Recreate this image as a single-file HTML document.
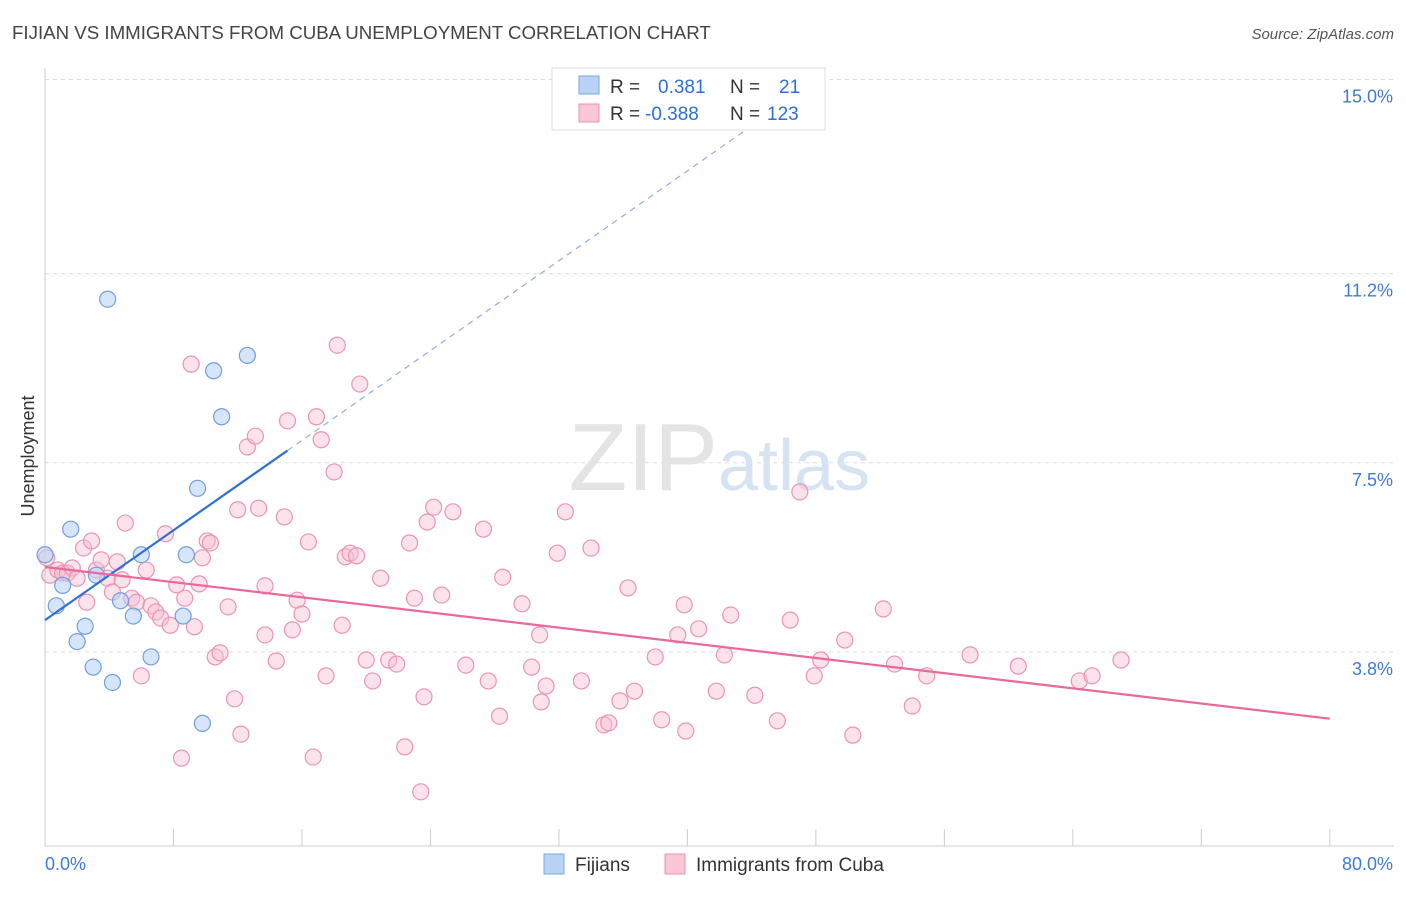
<!DOCTYPE html>
<html><head><meta charset="utf-8"><style>
body{margin:0;background:#fff;font-family:"Liberation Sans",sans-serif}
svg text{font-family:"Liberation Sans",sans-serif}
</style></head><body>
<svg id="chart" width="1406" height="892" viewBox="0 0 1406 892">
<text x="12" y="39" font-size="18.7" fill="#444">FIJIAN VS IMMIGRANTS FROM CUBA UNEMPLOYMENT CORRELATION CHART</text>
<text x="1394" y="39" font-size="15" fill="#555" text-anchor="end" font-style="italic">Source: ZipAtlas.com</text>
<g id="grid"></g>
<g id="axes"></g>
<text x="718" y="490" font-size="96" fill="#e4e4e4" text-anchor="end" font-family="Liberation Serif">ZIP</text>
<text x="718" y="490" font-size="72" fill="#d6e3f3">atlas</text>
<g id="pinkpts"></g>
<g id="bluepts"></g>
<g id="lines"></g>
<text x="34" y="456" font-size="18" fill="#333" text-anchor="middle" transform="rotate(-90 34 456)">Unemployment</text>
<g>
<rect x="552" y="68" width="273" height="62" fill="#fff" stroke="#ddd"/>
<rect x="579" y="76" width="20" height="18" fill="#b9d3f5" stroke="#7aa7e0"/>
<rect x="579" y="104" width="20" height="18" fill="#f9c6d6" stroke="#e993b0"/>
<text x="610" y="93" font-size="19" fill="#333">R = </text><text x="658" y="93" font-size="19" fill="#2f6fd6">0.381</text>
<text x="730" y="93" font-size="19" fill="#333">N = </text><text x="779" y="93" font-size="19" fill="#2f6fd6">21</text>
<text x="610" y="120" font-size="19" fill="#333">R = </text><text x="645" y="120" font-size="19" fill="#2f6fd6">-0.388</text>
<text x="730" y="120" font-size="19" fill="#333">N = </text><text x="767" y="120" font-size="19" fill="#2f6fd6">123</text>
</g>
<g>
<rect x="544" y="854" width="20" height="20" fill="#b9d3f5" stroke="#7aa7e0"/>
<text x="575" y="871" font-size="19" fill="#333">Fijians</text>
<rect x="665" y="854" width="20" height="20" fill="#f9c6d6" stroke="#e993b0"/>
<text x="696" y="871" font-size="19" fill="#333">Immigrants from Cuba</text>
</g>
</svg>
<script>
const xTicks=[0,10,20,30,40,50,60,70,80];
const yTicks=[3.8,7.5,11.2,15.0];
const yTickLabels=["3.8%","7.5%","11.2%","15.0%"];
const fijX=[0,0.7,1.1,1.6,2.0,2.5,3.0,3.2,3.9,4.2,4.7,5.5,6.0,6.6,8.6,8.8,9.5,9.8,10.5,11.0,12.6];
const fijY=[5.7,4.7,5.1,6.2,4.0,4.3,3.5,5.3,10.7,3.2,4.8,4.5,5.7,3.7,4.5,5.7,7.0,2.4,9.3,8.4,9.6];
const cubX=[0.1,0.3,0.8,1.1,1.4,1.7,2.0,2.4,2.6,2.9,3.2,3.5,3.9,4.2,4.5,4.8,5.0,5.4,5.7,6.0,6.3,6.6,6.9,7.2,7.5,7.8,8.2,8.5,8.7,9.1,9.3,9.6,9.8,10.1,10.3,10.6,10.9,11.4,11.8,12.0,12.2,12.6,13.1,13.3,13.7,13.7,14.4,14.9,15.1,15.4,15.7,16.0,16.4,16.7,16.9,17.2,17.5,18.0,18.2,18.5,18.7,19.0,19.4,19.6,20.0,20.4,20.9,21.4,21.9,22.4,22.7,23.0,23.4,23.6,23.8,24.2,24.7,25.4,26.2,27.3,27.6,28.3,28.5,29.7,30.3,30.8,30.9,31.2,31.9,32.4,33.4,34.0,34.8,35.1,35.8,36.3,36.7,38.0,38.4,39.4,39.8,39.9,40.7,41.8,42.3,42.7,44.2,45.6,46.4,47.0,47.9,48.3,49.8,50.3,52.2,52.9,54.0,54.9,57.6,60.6,64.4,65.2,67.0];
const cubY=[5.64,5.30,5.40,5.34,5.34,5.44,5.24,5.83,4.77,5.97,5.40,5.60,5.24,4.97,5.56,5.21,6.32,4.85,4.77,3.33,5.40,4.70,4.58,4.46,6.11,4.32,5.11,1.72,4.85,9.43,4.29,5.13,5.64,5.97,5.93,3.70,3.78,4.68,2.88,6.58,2.19,7.81,8.02,6.61,5.09,4.13,3.62,6.44,8.32,4.23,4.81,4.54,5.95,1.74,8.40,7.95,3.33,7.32,9.80,4.32,5.66,5.73,5.68,9.04,3.64,3.23,5.24,3.64,3.56,1.94,5.93,4.85,1.06,2.92,6.34,6.63,4.91,6.54,3.54,6.20,3.23,2.54,5.26,4.74,3.50,4.13,2.82,3.13,5.73,6.54,3.23,5.83,2.37,2.41,2.84,5.05,3.03,3.70,2.47,4.13,4.72,2.25,4.25,3.03,3.74,4.52,2.95,2.45,4.42,6.93,3.33,3.64,4.03,2.17,4.64,3.56,2.74,3.33,3.74,3.52,3.23,3.33,3.64];
const fijLine=[4.42,0.2198]; // intercept, slope
const cubLine=[5.46,-0.0371];
const X=v=>45+v*16.06, Y=v=>846-v*51.1;
const NS="http://www.w3.org/2000/svg";
function mk(tag,attrs,parent){const e=document.createElementNS(NS,tag);for(const k in attrs)e.setAttribute(k,attrs[k]);parent.appendChild(e);return e;}
const grid=document.getElementById('grid'),axes=document.getElementById('axes');
yTicks.forEach((t,i)=>{
 const l=mk('line',{x1:45,x2:1394,y1:Y(t),y2:Y(t),stroke:'#ddd','stroke-dasharray':'4,4'},grid);
 
 
 const tx=mk('text',{x:1393,y:Y(t)+23,'font-size':18,fill:'#3f7ad8','text-anchor':'end'},axes);
 tx.textContent=yTickLabels[i];
 
 
});
mk('line',{x1:45,x2:45,y1:68,y2:846,stroke:'#ccc'},axes);
mk('line',{x1:45,x2:1394,y1:846,y2:846,stroke:'#ccc'},axes);
for(let v=0;v<=80;v+=8){const t=mk('line',{x1:X(v),x2:X(v),y1:829,y2:846,stroke:'#ccc'},axes);
 
 }
const x0=mk('text',{x:45,y:870,'font-size':18,fill:'#3f7ad8'},axes);x0.textContent="0.0%";


const x1=mk('text',{x:1393,y:870,'font-size':18,fill:'#3f7ad8','text-anchor':'end'},axes);x1.textContent="80.0%";


const pg=document.getElementById('pinkpts');
cubX.forEach((x,i)=>{const c=mk('circle',{cx:X(x),cy:Y(cubY[i]),r:8,fill:'rgba(248,190,208,0.45)',stroke:'#eb94b2','stroke-width':1.2},pg);
 
 });
const bg=document.getElementById('bluepts');
fijX.forEach((x,i)=>{const c=mk('circle',{cx:X(x),cy:Y(fijY[i]),r:8,fill:'rgba(180,208,245,0.55)',stroke:'#6f9fdc','stroke-width':1.2},bg);
 
 });
const lg=document.getElementById('lines');
const fl=v=>fijLine[0]+fijLine[1]*v, cl=v=>cubLine[0]+cubLine[1]*v;
const bl=mk('line',{x1:X(0),y1:Y(fl(0)),x2:X(15.1),y2:Y(fl(15.1)),stroke:'#2f6fd6','stroke-width':2.2},lg);


const bd=mk('line',{x1:X(15.1),y1:Y(fl(15.1)),x2:X(44.5),y2:Y(fl(44.5)),stroke:'#8fb0e0','stroke-width':1.2,'stroke-dasharray':'6,5'},lg);


const pl=mk('line',{x1:X(0),y1:Y(cl(0)),x2:X(80),y2:Y(cl(80)),stroke:'#e8699a','stroke-width':2.2},lg);


</script>
</body></html>
